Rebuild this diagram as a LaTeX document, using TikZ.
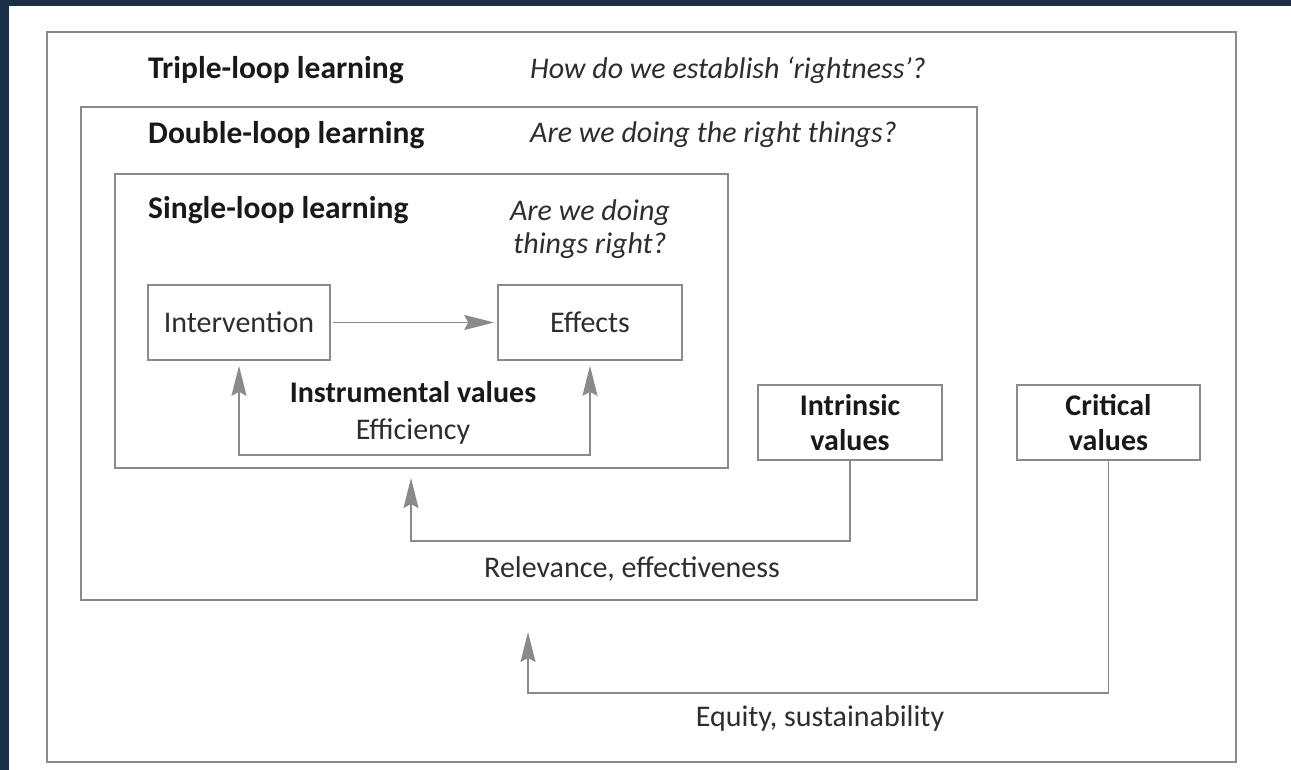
\documentclass[tikz,border=0pt]{standalone}
\usepackage{fontspec}
\setmainfont{Carlito}
\usetikzlibrary{arrows.meta}
\definecolor{navy}{HTML}{1B2F47}
\definecolor{linegray}{HTML}{8A8A8A}
\definecolor{ink}{HTML}{2E2E2E}
\tikzset{
  frame/.style={draw=linegray, line width=1.8pt, anchor=north west, inner sep=0pt},
  valbox/.style={draw=linegray, line width=1.6pt, minimum height=75pt, text=ink, align=center, font=\fontsize{30}{35}\selectfont},
  head/.style={anchor=west, inner sep=0pt, text=black!90, font=\fontsize{31.5}{35}\selectfont\bfseries},
  quest/.style={inner sep=0pt, text=ink, font=\fontsize{30}{33}\selectfont\itshape},
  lbl/.style={inner sep=0pt, text=ink, font=\fontsize{30}{37}\selectfont},
  conn/.style={draw=linegray, line width=1.6pt},
  tip/.tip={Stealth[length=30pt,width=15pt,inset=4pt]},
  arr/.style={conn, -tip},
}
\begin{document}
\begin{tikzpicture}[x=1pt,y=-1pt]
\useasboundingbox (0,0) rectangle (1291,770);
\fill[navy] (0,0) rectangle (1291,770);
\fill[white] (9,6) rectangle (1291,770);
% nested frames
\node[frame, minimum width=1189pt, minimum height=730pt] (triple) at (46,31) {};
\node[frame, minimum width=896pt, minimum height=493pt] (double) at (80,106) {};
\node[frame, minimum width=613pt, minimum height=294pt] (single) at (114,173) {};
\node[head] (triplehead) at (148,70) {Triple-loop learning};
\node[quest, anchor=west] (tripleq) at (530,70) {How do we establish ‘rightness’?};
\node[head] (doublehead) at (148,135) {Double-loop learning};
\node[quest, anchor=west] (doubleq) at (530,135) {Are we doing the right things?};
\node[head] (singlehead) at (148,210) {Single-loop learning};
\node[quest, align=center] (singleq) at (590,229) {Are we doing\\things right?};
% boxes
\node[valbox, minimum width=182pt] (interv) at (239,322.5) {Intervention};
\node[valbox, minimum width=184pt] (effects) at (590,322.5) {Effects};
\node[valbox, minimum width=184pt, font=\fontsize{30}{35}\selectfont\bfseries, text=black!90] (intrinsic) at (850,422.5) {Intrinsic\\values};
\node[valbox, minimum width=183pt, font=\fontsize{30}{35}\selectfont\bfseries, text=black!90] (critical) at (1108.5,422.5) {Critical\\values};
\node[lbl, align=center] (instr) at (413,413) {\textbf{\color{black!90}Instrumental values}\\Efficiency};
\node[lbl] (relev) at (632,569) {Relevance, effectiveness};
\node[lbl] (equity) at (820,718) {Equity, sustainability};
\coordinate (relevtip) at (411,478);
\coordinate (equitytip) at (528,632);
% connectors
\draw[arr, shorten <=2pt, shorten >=3pt] (interv) -- (effects);
\draw[conn, tip-tip, shorten <=5pt, shorten >=5pt] (interv.south) -- (interv.south |- 0,455) -| (effects.south);
\draw[arr] (intrinsic.south) -- ++(0,80) -| (relevtip);
\draw[arr] (critical.south) -- ++(0,232) -| (equitytip);
\end{tikzpicture}
\end{document}
